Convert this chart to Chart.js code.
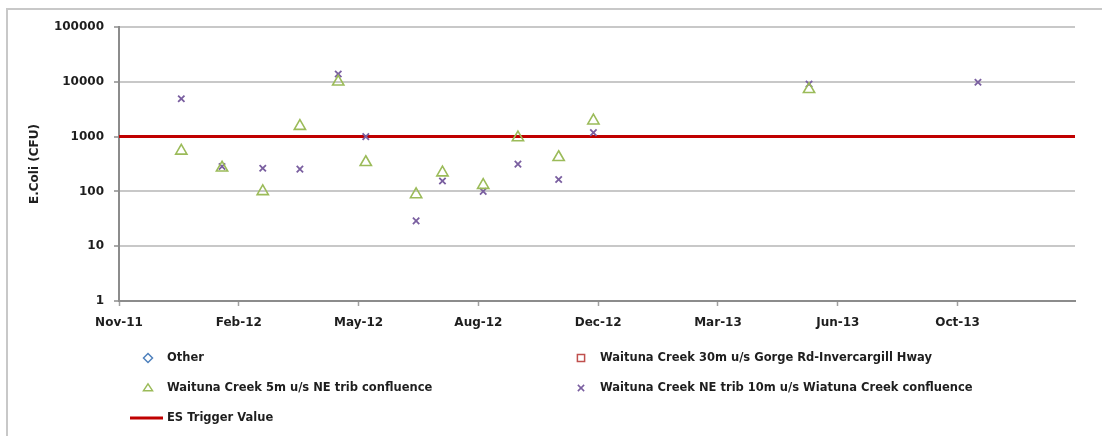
<!DOCTYPE html>
<html>
<head>
<meta charset="utf-8">
<script src="https://cdn.jsdelivr.net/npm/chart.js@4.4.1/dist/chart.umd.min.js"></script>
<style>
  html, body { margin: 0; padding: 0; background: #fff; }
  #wrap { position: relative; width: 1102px; height: 436px; }
</style>
</head>
<body>
<div id="wrap"><canvas id="chart" width="1102" height="436"></canvas></div>
<script>
// sample dates and E.coli results
const creek5mDates = [
  "2011-12-23", "2012-01-26", "2012-02-29", "2012-03-31", "2012-05-02", "2012-05-25",
  "2012-07-06", "2012-07-28", "2012-08-31", "2012-09-29", "2012-11-02", "2012-12-01",
  "2013-05-30"
];
const creek5mValues = [550, 270, 100, 1550, 10000, 340, 88, 220, 130, 960, 420, 1950, 7300];

const neTribDates = [
  "2011-12-23", "2012-01-26", "2012-02-29", "2012-03-31", "2012-05-02", "2012-05-25",
  "2012-07-06", "2012-07-28", "2012-08-31", "2012-09-29", "2012-11-02", "2012-12-01",
  "2013-05-30", "2013-10-18"
];
const neTribValues = [4900, 285, 265, 255, 13900, 1000, 29, 155, 100, 315, 165, 1180, 9100, 9800];

const otherDates = [];
const otherValues = [];
const gorgeRdDates = [];
const gorgeRdValues = [];

const triggerValue = 1000;
const yTickValues = [1, 10, 100, 1000, 10000, 100000];
const axisStart = "2011-11-01";
const axisEnd = "2014-01-07";
const tickStepDays = 100;

const monthNames = ["Jan", "Feb", "Mar", "Apr", "May", "Jun", "Jul", "Aug", "Sep", "Oct", "Nov", "Dec"];

function toDay(s) {
  return Date.parse(s + "T00:00:00Z") / 86400000;
}

function dayLabel(day) {
  const d = new Date(day * 86400000);
  const yy = String(d.getUTCFullYear() % 100).padStart(2, "0");
  return monthNames[d.getUTCMonth()] + "-" + yy;
}

function toPoints(dates, values) {
  return dates.map((d, i) => ({ x: toDay(d), y: values[i] }));
}

const xMin = toDay(axisStart);
const xMax = toDay(axisEnd);

const fontFamily = "'DejaVu Sans', sans-serif";
const textColor = "#1e1e1e";

// excel-like legend in two columns under the plot
const legendSlots = [
  { x: 148, y: 358 },
  { x: 581, y: 358 },
  { x: 148, y: 388 },
  { x: 581, y: 388 },
  { x: 148, y: 418 }
];

function drawMarker(ctx, style, x, y, r, color, lineWidth) {
  ctx.save();
  ctx.strokeStyle = color;
  ctx.lineWidth = lineWidth;
  ctx.beginPath();
  if (style === "rectRot") {
    ctx.moveTo(x, y - r); ctx.lineTo(x + r, y); ctx.lineTo(x, y + r); ctx.lineTo(x - r, y); ctx.closePath();
  } else if (style === "rect") {
    ctx.rect(x - r * 0.8, y - r * 0.8, r * 1.6, r * 1.6);
  } else if (style === "triangle") {
    const h = r * 1.5;
    ctx.moveTo(x, y - h * 0.6); ctx.lineTo(x + r, y + h * 0.4); ctx.lineTo(x - r, y + h * 0.4); ctx.closePath();
  } else if (style === "crossRot") {
    const d = r * 0.7;
    ctx.moveTo(x - d, y - d); ctx.lineTo(x + d, y + d);
    ctx.moveTo(x + d, y - d); ctx.lineTo(x - d, y + d);
  } else if (style === "line") {
    ctx.lineWidth = 3;
    ctx.moveTo(x - 18, y); ctx.lineTo(x + 15, y);
  }
  ctx.stroke();
  ctx.restore();
}

const frameAndLegend = {
  id: "frameAndLegend",
  beforeDraw(chart) {
    const ctx = chart.ctx;
    ctx.save();
    ctx.strokeStyle = "#c8c8c8";
    ctx.lineWidth = 2;
    ctx.beginPath();
    ctx.moveTo(7, 436); ctx.lineTo(7, 9); ctx.lineTo(1102, 9);
    ctx.stroke();
    ctx.restore();
  },
  afterDraw(chart) {
    const ctx = chart.ctx;
    chart.data.datasets.forEach((ds, i) => {
      const slot = legendSlots[i];
      const style = ds.legendStyle;
      drawMarker(ctx, style, slot.x, slot.y, style === "line" ? 0 : 4.5, ds.borderColor, 1.5);
      ctx.save();
      ctx.fillStyle = textColor;
      ctx.font = "bold 11.5px " + fontFamily;
      ctx.textBaseline = "middle";
      ctx.fillText(ds.label, slot.x + 19, slot.y);
      ctx.restore();
    });
  }
};

const ctx = document.getElementById("chart").getContext("2d");

new Chart(ctx, {
  type: "scatter",
  data: {
    datasets: [
      {
        label: "Other",
        data: toPoints(otherDates, otherValues),
        pointStyle: "rectRot",
        legendStyle: "rectRot",
        borderColor: "#4f81bd",
        backgroundColor: "rgba(0,0,0,0)",
        pointRadius: 4
      },
      {
        label: "Waituna Creek 30m u/s Gorge Rd-Invercargill Hway",
        data: toPoints(gorgeRdDates, gorgeRdValues),
        pointStyle: "rect",
        legendStyle: "rect",
        borderColor: "#c0504d",
        backgroundColor: "rgba(0,0,0,0)",
        pointRadius: 4
      },
      {
        label: "Waituna Creek 5m u/s NE trib confluence",
        data: toPoints(creek5mDates, creek5mValues),
        pointStyle: "triangle",
        legendStyle: "triangle",
        borderColor: "#9bbb59",
        backgroundColor: "rgba(0,0,0,0)",
        pointRadius: 6.5,
        pointBorderWidth: 1.6
      },
      {
        label: "Waituna Creek NE trib 10m u/s Wiatuna Creek confluence",
        data: toPoints(neTribDates, neTribValues),
        pointStyle: "crossRot",
        legendStyle: "crossRot",
        borderColor: "#7a5fa0",
        backgroundColor: "#7a5fa0",
        pointRadius: 4.5,
        pointBorderWidth: 1.8
      },
      {
        type: "line",
        label: "ES Trigger Value",
        data: [{ x: xMin, y: triggerValue }, { x: xMax, y: triggerValue }],
        legendStyle: "line",
        borderColor: "#c00000",
        borderWidth: 3,
        pointRadius: 0,
        fill: false
      }
    ]
  },
  options: {
    responsive: false,
    animation: false,
    events: [],
    layout: { padding: { left: 0, right: 27, top: 27, bottom: 0 } },
    plugins: {
      legend: { display: false },
      tooltip: { enabled: false }
    },
    scales: {
      x: {
        type: "linear",
        min: xMin,
        max: xMax,
        afterFit: (scale) => { scale.height = 135; },
        afterBuildTicks: (scale) => {
          const ticks = [];
          for (let d = xMin; d <= xMax; d += tickStepDays) ticks.push({ value: d });
          scale.ticks = ticks;
        },
        ticks: {
          callback: (v) => dayLabel(v),
          maxRotation: 0,
          autoSkip: false,
          padding: 10,
          color: textColor,
          font: { family: fontFamily, size: 12, weight: "bold" }
        },
        grid: {
          drawOnChartArea: false,
          drawTicks: true,
          tickLength: 5,
          tickColor: "#a0a0a0",
          tickWidth: 1.5
        },
        border: { color: "#8c8c8c", width: 2 }
      },
      y: {
        type: "logarithmic",
        min: 1,
        max: 100000,
        afterFit: (scale) => { scale.width = 119; },
        afterBuildTicks: (scale) => {
          scale.ticks = yTickValues.map((v) => ({ value: v, major: true }));
        },
        ticks: {
          callback: (v) => String(v),
          padding: 10,
          color: textColor,
          font: { family: fontFamily, size: 12, weight: "bold" }
        },
        grid: {
          color: "#c8c8c8",
          lineWidth: 2,
          tickLength: 5,
          tickColor: "#8c8c8c",
          tickWidth: 1.5
        },
        border: { color: "#8c8c8c", width: 2 },
        title: {
          display: true,
          text: "E.Coli (CFU)",
          color: textColor,
          font: { family: fontFamily, size: 12, weight: "bold" },
          padding: { top: 28, bottom: 0 }
        }
      }
    }
  },
  plugins: [frameAndLegend]
});
</script>
</body>
</html>
